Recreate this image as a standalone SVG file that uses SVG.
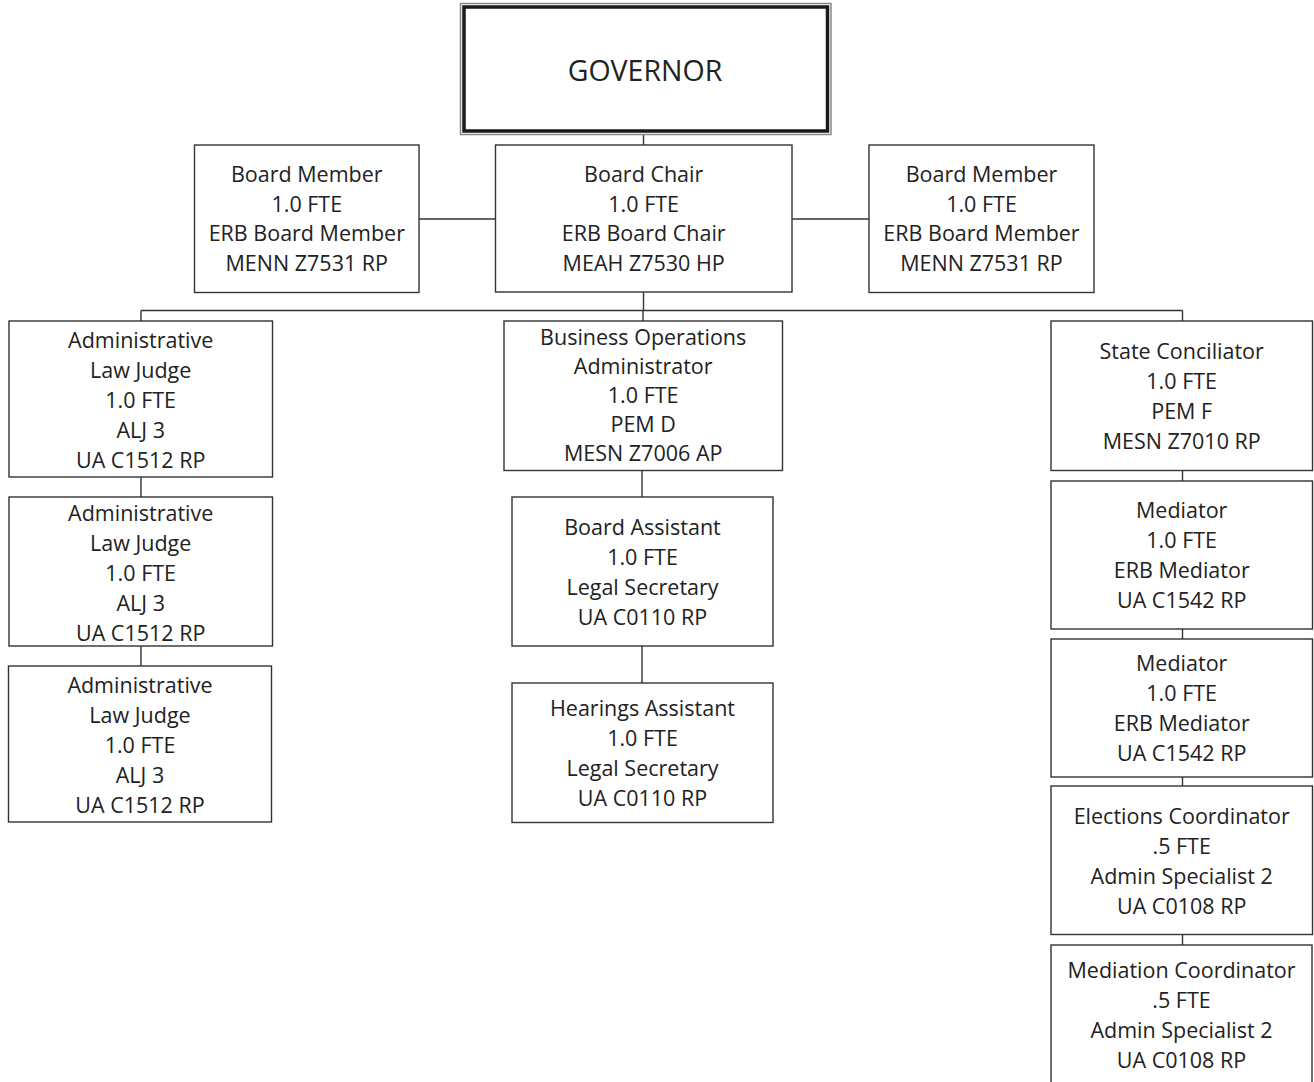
<svg xmlns="http://www.w3.org/2000/svg" width="1314" height="1082" viewBox="0 0 1314 1082">
<style>
.box{fill:#fff;stroke:#333;stroke-width:1.4}
.t{font-family:"Open Sans","Noto Sans",sans-serif;font-size:21.5px;fill:#222;text-anchor:middle}
.g{font-family:"Open Sans","Noto Sans",sans-serif;font-size:28.5px;fill:#222;text-anchor:middle}
.c{fill:none;stroke:#333;stroke-width:1.4}
</style>
<rect width="1314" height="1082" fill="#fff"/>
<g id="connectors" class="c">
<path d="M643.5 134 V145"/>
<path d="M419 219 H495.5"/>
<path d="M792 219 H869"/>
<path d="M643.5 292 V310.5"/>
<path d="M141 310.5 H1182.5"/>
<path d="M141 310.5 V321"/>
<path d="M643 310.5 V321"/>
<path d="M1182.5 310.5 V321"/>
<path d="M141 477 V497"/>
<path d="M141 646 V666"/>
<path d="M642 470.5 V497"/>
<path d="M642 646 V683"/>
<path d="M1182.5 470.5 V481"/>
<path d="M1182.5 629 V639"/>
<path d="M1182.5 777 V786"/>
<path d="M1182.5 934.5 V945"/>
</g>
<g id="governor">
<rect x="460.5" y="3.5" width="370.5" height="131" fill="#fff" stroke="#888" stroke-width="1.5"/>
<rect x="464" y="7" width="363.5" height="124" fill="none" stroke="#1a1a1a" stroke-width="3.5"/>
<text class="g" x="645" y="81">GOVERNOR</text>
</g>
<g id="board-member-left">
<rect class="box" x="194.5" y="145" width="224.5" height="147.5"/>
<text class="t" x="306.8" y="182">Board Member</text>
<text class="t" x="306.8" y="211.5">1.0 FTE</text>
<text class="t" x="306.8" y="241">ERB Board Member</text>
<text class="t" x="306.8" y="270.5">MENN Z7531 RP</text>
</g>
<g id="board-chair">
<rect class="box" x="495.5" y="145" width="296.5" height="147"/>
<text class="t" x="643.7" y="182">Board Chair</text>
<text class="t" x="643.7" y="211.5">1.0 FTE</text>
<text class="t" x="643.7" y="241">ERB Board Chair</text>
<text class="t" x="643.7" y="270.5">MEAH Z7530 HP</text>
</g>
<g id="board-member-right">
<rect class="box" x="869" y="145" width="225" height="147.5"/>
<text class="t" x="981.5" y="182">Board Member</text>
<text class="t" x="981.5" y="211.5">1.0 FTE</text>
<text class="t" x="981.5" y="241">ERB Board Member</text>
<text class="t" x="981.5" y="270.5">MENN Z7531 RP</text>
</g>
<g id="alj-1">
<rect class="box" x="9" y="321" width="263.5" height="156"/>
<text class="t" x="140.7" y="347.5">Administrative</text>
<text class="t" x="140.7" y="377.5">Law Judge</text>
<text class="t" x="140.7" y="407.5">1.0 FTE</text>
<text class="t" x="140.7" y="437.5">ALJ 3</text>
<text class="t" x="140.7" y="467.5">UA C1512 RP</text>
</g>
<g id="alj-2">
<rect class="box" x="9" y="497" width="263.5" height="149"/>
<text class="t" x="140.7" y="520.5">Administrative</text>
<text class="t" x="140.7" y="550.5">Law Judge</text>
<text class="t" x="140.7" y="580.5">1.0 FTE</text>
<text class="t" x="140.7" y="610.5">ALJ 3</text>
<text class="t" x="140.7" y="640.5">UA C1512 RP</text>
</g>
<g id="alj-3">
<rect class="box" x="8.5" y="666" width="263" height="156"/>
<text class="t" x="140" y="693">Administrative</text>
<text class="t" x="140" y="723">Law Judge</text>
<text class="t" x="140" y="753">1.0 FTE</text>
<text class="t" x="140" y="783">ALJ 3</text>
<text class="t" x="140" y="813">UA C1512 RP</text>
</g>
<g id="business-operations-administrator">
<rect class="box" x="504" y="321" width="278.5" height="149.5"/>
<text class="t" x="643.2" y="344.5">Business Operations</text>
<text class="t" x="643.2" y="373.7">Administrator</text>
<text class="t" x="643.2" y="402.9">1.0 FTE</text>
<text class="t" x="643.2" y="432.1">PEM D</text>
<text class="t" x="643.2" y="461.3">MESN Z7006 AP</text>
</g>
<g id="board-assistant">
<rect class="box" x="512" y="497" width="261" height="149"/>
<text class="t" x="642.5" y="535">Board Assistant</text>
<text class="t" x="642.5" y="565">1.0 FTE</text>
<text class="t" x="642.5" y="595">Legal Secretary</text>
<text class="t" x="642.5" y="625">UA C0110 RP</text>
</g>
<g id="hearings-assistant">
<rect class="box" x="512" y="683" width="261" height="139.5"/>
<text class="t" x="642.5" y="716">Hearings Assistant</text>
<text class="t" x="642.5" y="746">1.0 FTE</text>
<text class="t" x="642.5" y="776">Legal Secretary</text>
<text class="t" x="642.5" y="806">UA C0110 RP</text>
</g>
<g id="state-conciliator">
<rect class="box" x="1051" y="321" width="261.5" height="149.5"/>
<text class="t" x="1181.7" y="358.5">State Conciliator</text>
<text class="t" x="1181.7" y="388.5">1.0 FTE</text>
<text class="t" x="1181.7" y="418.5">PEM F</text>
<text class="t" x="1181.7" y="448.5">MESN Z7010 RP</text>
</g>
<g id="mediator-1">
<rect class="box" x="1051" y="481" width="261.5" height="148"/>
<text class="t" x="1181.7" y="518">Mediator</text>
<text class="t" x="1181.7" y="548">1.0 FTE</text>
<text class="t" x="1181.7" y="578">ERB Mediator</text>
<text class="t" x="1181.7" y="608">UA C1542 RP</text>
</g>
<g id="mediator-2">
<rect class="box" x="1051" y="639" width="261.5" height="138"/>
<text class="t" x="1181.7" y="671">Mediator</text>
<text class="t" x="1181.7" y="701">1.0 FTE</text>
<text class="t" x="1181.7" y="731">ERB Mediator</text>
<text class="t" x="1181.7" y="761">UA C1542 RP</text>
</g>
<g id="elections-coordinator">
<rect class="box" x="1051" y="786" width="261.5" height="148.5"/>
<text class="t" x="1181.7" y="824">Elections Coordinator</text>
<text class="t" x="1181.7" y="854">.5 FTE</text>
<text class="t" x="1181.7" y="884">Admin Specialist 2</text>
<text class="t" x="1181.7" y="914">UA C0108 RP</text>
</g>
<g id="mediation-coordinator">
<rect class="box" x="1051" y="945" width="261" height="145"/>
<text class="t" x="1181.5" y="977.5">Mediation Coordinator</text>
<text class="t" x="1181.5" y="1007.5">.5 FTE</text>
<text class="t" x="1181.5" y="1037.5">Admin Specialist 2</text>
<text class="t" x="1181.5" y="1067.5">UA C0108 RP</text>
</g>
</svg>
